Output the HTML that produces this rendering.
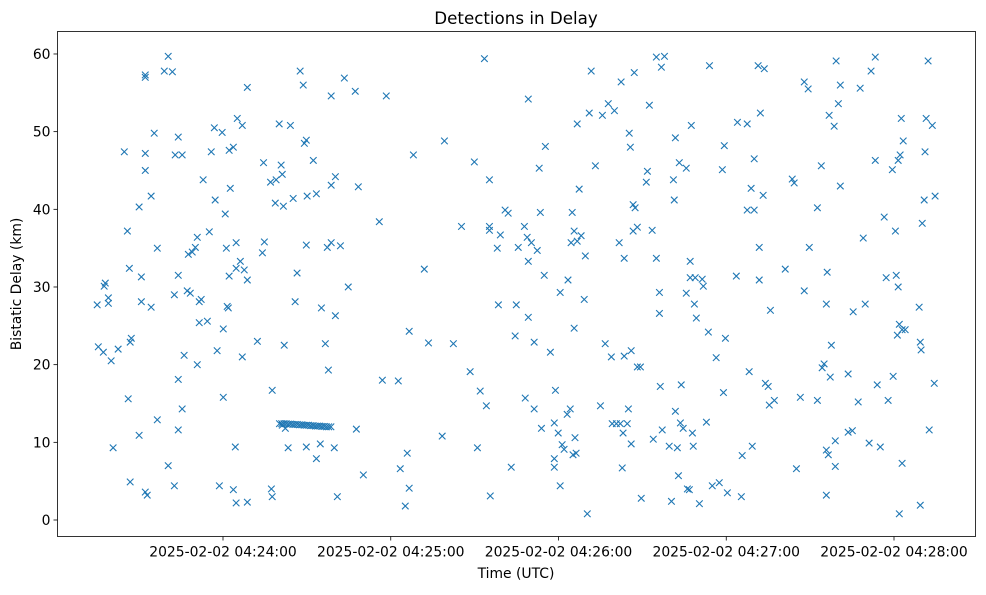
<!DOCTYPE html>
<html><head><meta charset="utf-8"><style>
body{margin:0;background:#fff;}
svg text{font-family:"DejaVu Sans","Liberation Sans",sans-serif;fill:#000;}
</style></head><body>
<svg id="chart" width="986" height="590" xmlns="http://www.w3.org/2000/svg">
<rect width="986" height="590" fill="#fff"/>
<text x="516" y="24" font-size="16.7" text-anchor="middle">Detections in Delay</text>
<text x="516" y="578" font-size="13.9" text-anchor="middle">Time (UTC)</text>
<text transform="translate(21,284) rotate(-90)" font-size="13.9" text-anchor="middle">Bistatic Delay (km)</text>
<g id="marks"></g>
<g id="axes"></g>
<rect x="57.5" y="31.5" width="918" height="505" fill="none" stroke="#000" stroke-width="0.8"/>
</svg>
<script>
const xTickValues=[60,120,180,240,300];
const xTickLabels=["2025-02-02 04:24:00","2025-02-02 04:25:00","2025-02-02 04:26:00","2025-02-02 04:27:00","2025-02-02 04:28:00"];
const yTickValues=[0,10,20,30,40,50,60];
// seconds after 04:23:00
const times=[15.4,15.0,17.5,17.9,17.2,19.0,19.0,20.0,20.7,22.5,24.7,26.1,25.8,26.5,26.8,26.8,27.2,30.0,30.0,30.8,30.8,32.2,32.2,32.2,32.2,32.2,32.9,34.3,34.3,35.4,36.5,36.5,39.0,40.4,40.4,41.9,42.6,42.6,42.9,44.0,44.0,44.0,44.0,45.4,45.4,46.1,47.2,48.3,47.6,49.0,50.1,50.8,50.8,51.5,51.5,52.2,52.9,54.4,55.8,55.1,56.9,57.2,57.9,58.7,59.7,60.1,60.1,60.8,61.2,61.5,62.2,61.9,62.2,62.6,63.7,63.7,64.4,64.7,64.7,65.1,64.7,66.2,66.9,66.9,67.6,68.7,68.7,68.7,72.3,74.1,74.5,74.8,77.3,77.6,77.6,77.0,78.7,79.0,80.1,81.2,81.2,80.8,81.9,82.3,81.6,83.3,84.1,85.1,85.8,86.5,87.6,88.7,89.1,89.8,89.8,89.8,90.1,92.3,93.4,93.4,94.8,95.2,96.6,97.3,97.7,98.7,98.7,98.7,99.8,100.2,100.2,100.9,102.0,103.4,104.8,107.3,107.7,108.4,110.2,115.9,117.0,118.4,122.7,123.4,125.2,125.9,126.6,126.6,128.1,132.0,133.5,138.4,139.2,142.4,145.3,148.4,149.9,151.0,152.0,153.5,154.2,155.3,155.3,155.3,155.6,158.1,158.5,159.2,160.9,162.0,163.1,164.5,164.9,165.6,167.8,168.1,168.8,169.2,169.2,169.2,170.3,171.3,171.3,172.4,173.1,173.5,173.9,174.9,175.3,177.1,178.5,178.9,178.5,178.5,179.9,180.6,180.6,181.3,182.0,183.1,183.4,184.2,184.5,184.9,185.2,185.6,185.6,185.9,186.3,186.7,186.7,187.4,188.1,189.2,189.6,190.3,191.0,191.7,193.2,195.0,195.7,196.7,197.8,198.9,199.2,200.0,200.7,201.7,202.1,202.4,202.8,203.1,203.5,203.5,204.6,205.0,205.3,205.7,206.0,206.0,206.7,206.7,207.1,207.4,208.2,208.2,209.3,209.6,211.4,211.8,212.5,213.5,213.9,215.0,215.0,216.1,216.1,216.4,216.8,217.1,217.9,219.6,220.4,221.1,221.4,221.8,221.8,222.5,222.9,223.2,223.6,223.9,224.6,225.7,225.7,226.1,226.8,227.1,227.1,227.5,227.9,228.2,228.6,228.9,229.3,230.4,231.4,231.8,232.9,233.6,234.0,235.0,236.4,237.5,238.6,239.0,239.3,239.7,240.4,243.6,244.0,245.4,245.7,247.5,247.5,248.2,248.9,249.3,250.0,250.0,251.4,251.8,251.8,252.2,253.2,253.6,254.0,255.0,255.4,255.8,257.2,261.1,263.6,264.3,265.1,266.5,267.9,267.9,269.3,269.7,272.6,272.6,274.0,274.3,275.0,275.8,275.8,275.8,276.1,276.5,276.8,277.2,277.6,278.6,279.0,279.0,279.3,280.1,280.8,280.8,283.6,283.6,285.1,285.4,287.2,287.9,289.0,289.7,291.1,291.8,293.3,293.3,294.0,295.1,296.5,297.2,297.9,299.4,299.7,300.5,300.8,301.2,301.5,301.5,301.9,301.9,302.2,302.6,302.9,302.9,303.3,304.0,309.0,309.4,309.4,309.7,310.1,310.8,311.1,311.5,312.2,312.6,313.7,314.4,314.7,
80.2,81.0,81.8,82.6,83.4,84.2,85.0,85.8,86.6,87.4,88.2,89.0,89.8,90.6,91.4,92.2,93.0,93.8,94.6,95.4,96.2,97.0,97.8,98.6];
const delays=[22.3,27.7,30.1,30.5,21.6,27.9,28.6,20.5,9.3,22.0,47.4,15.6,37.2,32.4,4.9,22.9,23.4,10.9,40.3,28.1,31.3,57.0,57.3,47.2,45.0,3.6,3.2,41.7,27.4,49.8,35.0,12.9,57.8,59.7,7.0,57.7,29.0,4.4,47.0,49.3,31.5,18.1,11.6,47.0,14.3,21.2,29.5,29.2,34.2,34.5,35.1,36.4,20.0,28.1,25.4,28.4,43.8,25.6,47.4,37.1,50.5,41.2,21.8,4.4,49.9,15.8,24.6,39.4,35.0,27.5,47.6,27.3,31.4,42.7,48.0,3.9,9.4,35.7,2.2,51.7,32.4,33.3,50.8,21.0,32.2,2.3,30.9,55.7,23.0,34.4,46.0,35.8,4.0,16.7,3.0,43.5,40.8,43.8,51.0,12.2,44.5,45.7,22.5,11.8,40.4,9.3,50.8,41.4,28.1,31.8,57.8,56.0,48.5,48.9,35.4,9.4,41.7,46.3,42.0,7.9,9.8,27.3,22.7,35.1,19.3,35.7,54.6,43.1,9.3,44.2,26.3,3.0,35.3,56.9,30.0,55.2,11.7,42.9,5.8,38.4,18.0,54.6,17.9,6.6,1.8,8.6,24.3,4.1,47.0,32.3,22.8,10.8,48.8,22.7,37.8,19.1,46.1,9.3,16.6,59.4,14.7,43.8,37.8,37.3,3.1,35.0,27.7,36.7,39.9,39.5,6.8,23.7,27.7,35.1,37.8,15.7,36.4,54.2,33.3,26.1,35.7,14.3,22.9,34.7,45.3,39.6,11.8,31.5,48.1,21.6,12.5,16.7,7.9,6.8,11.2,29.3,4.4,9.7,9.1,13.6,30.9,14.3,35.7,39.6,8.4,24.7,37.2,10.6,8.6,35.9,51.0,42.6,36.6,28.4,34.0,0.8,52.4,57.8,45.6,14.7,52.1,22.7,53.6,21.0,12.4,52.7,12.4,35.7,12.4,56.4,6.7,11.2,33.7,21.1,12.4,14.3,49.8,48.0,21.8,9.8,37.2,40.6,57.6,40.2,37.7,19.7,19.7,2.8,43.5,44.9,53.4,37.3,10.4,59.6,33.7,29.3,26.6,17.2,58.3,11.6,59.7,9.5,2.4,43.8,41.2,49.2,14.0,9.3,5.7,46.0,12.5,17.4,11.8,45.3,29.2,4.0,3.9,33.3,31.2,50.8,11.2,9.5,27.8,31.2,26.0,2.1,31.0,30.1,12.6,24.2,58.5,4.4,20.9,4.8,45.1,16.4,48.2,23.4,3.5,31.4,51.2,3.0,8.3,51.0,39.9,19.1,42.7,9.5,46.5,39.9,58.5,30.9,35.1,52.4,41.8,58.1,17.6,17.2,14.8,27.0,15.4,32.3,43.9,43.4,6.6,15.8,56.4,29.5,55.5,35.1,40.2,15.4,45.6,19.6,20.1,3.2,9.0,27.8,31.9,8.4,52.1,18.4,22.5,50.7,6.9,10.2,59.1,53.6,56.0,43.0,18.8,11.3,11.5,26.8,15.2,55.6,36.3,27.8,9.9,57.8,59.6,46.3,17.4,9.4,39.0,31.2,15.4,45.1,18.5,37.2,31.5,23.8,46.3,30.0,25.2,0.8,47.0,51.7,24.5,7.3,48.8,24.5,27.4,22.9,1.9,21.9,38.2,41.2,47.4,51.7,59.1,11.6,50.8,17.6,41.7,
12.4,12.4,12.4,12.4,12.35,12.35,12.3,12.3,12.3,12.25,12.25,12.2,12.2,12.2,12.15,12.15,12.1,12.1,12.1,12.05,12.05,12.0,12.0,12.0];
const NS="http://www.w3.org/2000/svg";
const X0=57.5,X1=975.5,Y0=31.5,Y1=536.5;
function xs(s){return 223+(s-60)*167.75/60;}
function ys(v){return 520-v*7.767;}
const marks=document.getElementById('marks');
for(let i=0;i<times.length;i++){
  const x=xs(times[i]),y=ys(delays[i]),r=3.3;
  const p=document.createElementNS(NS,'path');
  p.setAttribute('d',`M${x-r},${y-r}L${x+r},${y+r}M${x-r},${y+r}L${x+r},${y-r}`);
  p.setAttribute('stroke','#1f77b4');p.setAttribute('stroke-width','1.1');p.setAttribute('fill','none');
  
  
  marks.appendChild(p);
}
const axes=document.getElementById('axes');
xTickValues.forEach((v,i)=>{
  const x=xs(v);
  const l=document.createElementNS(NS,'line');
  l.setAttribute('x1',x);l.setAttribute('x2',x);l.setAttribute('y1',Y1);l.setAttribute('y2',Y1+4);l.setAttribute('stroke','#000');l.setAttribute('stroke-width','0.8');
  
  
  axes.appendChild(l);
  const t=document.createElementNS(NS,'text');
  t.setAttribute('x',x);t.setAttribute('y',Y1+20);t.setAttribute('font-size','13.9');t.setAttribute('text-anchor','middle');
  t.textContent=xTickLabels[i];
  
  
  axes.appendChild(t);
});
yTickValues.forEach(v=>{
  const y=ys(v);
  const l=document.createElementNS(NS,'line');
  l.setAttribute('x1',X0-4);l.setAttribute('x2',X0);l.setAttribute('y1',y);l.setAttribute('y2',y);l.setAttribute('stroke','#000');l.setAttribute('stroke-width','0.8');
  
  
  axes.appendChild(l);
  const t=document.createElementNS(NS,'text');
  t.setAttribute('x',X0-7);t.setAttribute('y',y+5);t.setAttribute('font-size','13.9');t.setAttribute('text-anchor','end');
  t.textContent=String(v);
  
  
  axes.appendChild(t);
});
</script>
</body></html>
